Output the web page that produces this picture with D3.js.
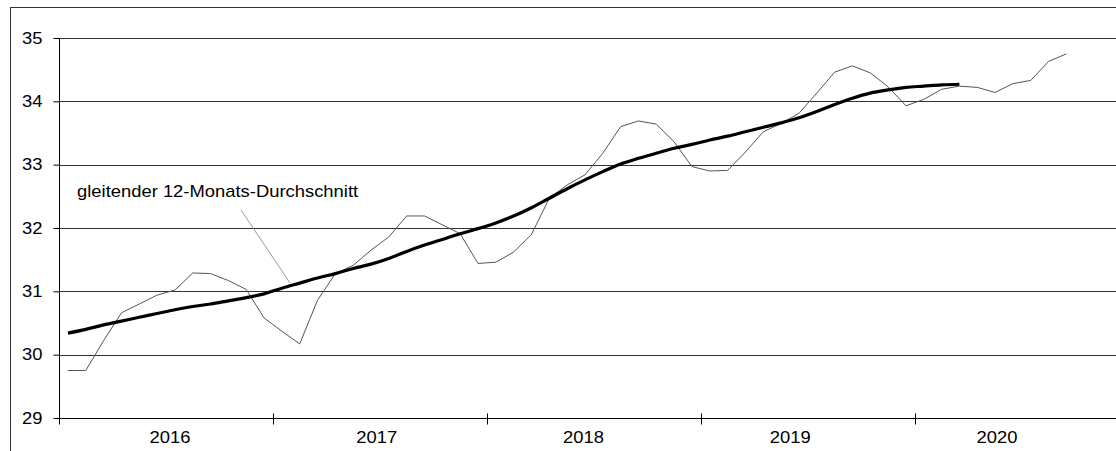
<!DOCTYPE html>
<html>
<head>
<meta charset="utf-8">
<script src="https://cdn.jsdelivr.net/npm/d3@7"></script>
<style>
  html, body { margin: 0; padding: 0; background: #fff; }
  svg { display: block; font-family: "Liberation Sans", Arial, sans-serif; }
</style>
</head>
<body>
<svg id="chart" width="1116" height="451"></svg>
<script>
// ---------- data ----------
const years = ["2016", "2017", "2018", "2019", "2020"];
const monthsPerYearOnAxis = 12;
const yTicks = [29, 30, 31, 32, 33, 34, 35];

// monthly values, Jan 2016 .. Sep 2020
const monthly = [
  29.75, 29.75, 30.22, 30.66, 30.80, 30.94, 31.02, 31.29, 31.28, 31.17, 31.03, 30.58,
  30.37, 30.17, 30.86, 31.28, 31.41, 31.65, 31.86, 32.19, 32.19, 32.05, 31.91, 31.44,
  31.46, 31.62, 31.90, 32.47, 32.68, 32.84, 33.18, 33.60, 33.69, 33.64, 33.36, 32.97,
  32.90, 32.91, 33.20, 33.52, 33.65, 33.81, 34.13, 34.46, 34.56, 34.45, 34.23, 33.93,
  34.03, 34.19, 34.24, 34.22, 34.14, 34.28, 34.33, 34.63, 34.75
];

// 12-month moving average, Jan 2016 .. Mar 2020
const movingAvg = [
  30.34, 30.40, 30.47, 30.53, 30.59, 30.65, 30.71, 30.76, 30.80, 30.85, 30.90, 30.96,
  31.05, 31.13, 31.21, 31.28, 31.36, 31.43, 31.52, 31.63, 31.73, 31.82, 31.91, 31.99,
  32.08, 32.19, 32.32, 32.47, 32.62, 32.76, 32.89, 33.01, 33.10, 33.18, 33.26, 33.32,
  33.39, 33.45, 33.52, 33.59, 33.66, 33.74, 33.84, 33.95, 34.05, 34.13, 34.18, 34.22,
  34.24, 34.26, 34.27
];

const labelText = "gleitender 12-Monats-Durchschnitt";

// ---------- layout ----------
const svg = d3.select("#chart");
const plotLeft = 59, plotTop = 38, plotBottom = 418;
const step = 17.83;
const totalMonths = years.length * monthsPerYearOnAxis;
const plotRight = plotLeft + totalMonths * step;
const HS = 1.15; // horizontal text stretch

const x = d3.scaleLinear().domain([0, totalMonths]).range([plotLeft, plotRight]);
const y = d3.scaleLinear().domain([29, 35]).range([plotBottom, plotTop]);
const yearX = d3.scalePoint().domain(years).range([170, 997]);

// outer border
svg.append("rect")
  .attr("x", 10.5).attr("y", 7.5)
  .attr("width", 1130).attr("height", 460)
  .attr("fill", "none").attr("stroke", "#333").attr("stroke-width", 1);

// gridlines
svg.append("g").selectAll("line")
  .data(yTicks.filter(d => d > 29))
  .join("line")
  .attr("x1", plotLeft).attr("x2", plotRight)
  .attr("y1", d => Math.round(y(d)) + 0.5).attr("y2", d => Math.round(y(d)) + 0.5)
  .attr("stroke", "#333").attr("stroke-width", 1);

// y axis
const yAxis = svg.append("g").attr("transform", `translate(${plotLeft + 0.5},0)`)
  .call(d3.axisLeft(y).tickValues(yTicks).tickSize(6).tickFormat(""));
yAxis.select(".domain").attr("stroke", "#000").attr("d", `M0,${y(35)}V${Math.round(y(29)) + 0.5}`);
yAxis.selectAll(".tick line").attr("stroke", "#000");

svg.append("g").selectAll("text")
  .data(yTicks)
  .join("text")
  .attr("transform", d => `translate(42.5,${y(d) + 5.6}) scale(${HS},1)`)
  .attr("text-anchor", "end")
  .attr("font-size", 16)
  .attr("fill", "#000")
  .text(d => d);

// x axis
const boundaries = d3.range(0, totalMonths, monthsPerYearOnAxis);
const xAxis = svg.append("g").attr("transform", `translate(0,${Math.round(y(29)) + 0.5})`);
xAxis.append("line")
  .attr("x1", plotLeft).attr("x2", plotRight)
  .attr("stroke", "#000");
xAxis.selectAll("line.tk")
  .data(boundaries)
  .join("line").attr("class", "tk")
  .attr("x1", d => Math.round(x(d)) + 0.5).attr("x2", d => Math.round(x(d)) + 0.5)
  .attr("y1", -5).attr("y2", 6)
  .attr("stroke", "#000");

svg.append("g").selectAll("text")
  .data(years)
  .join("text")
  .attr("transform", d => `translate(${yearX(d)},443) scale(${HS},1)`)
  .attr("text-anchor", "middle")
  .attr("font-size", 16)
  .attr("fill", "#000")
  .text(d => d);

// thin monthly line
const lineThin = d3.line()
  .x((d, i) => x(i + 0.5))
  .y(d => y(d));
svg.append("path")
  .datum(monthly)
  .attr("d", lineThin)
  .attr("fill", "none")
  .attr("stroke", "#555")
  .attr("stroke-width", 1);

// thick moving average
const lineThick = d3.line()
  .x((d, i) => x(i + 0.5))
  .y(d => y(d))
  .curve(d3.curveMonotoneX);
svg.append("path")
  .datum(movingAvg)
  .attr("d", lineThick)
  .attr("fill", "none")
  .attr("stroke", "#000")
  .attr("stroke-width", 3.2)
  .attr("stroke-linejoin", "round");

// label + leader line
svg.append("line")
  .attr("x1", 241).attr("y1", 210)
  .attr("x2", 290).attr("y2", 283)
  .attr("stroke", "#999").attr("stroke-width", 1);

svg.append("text")
  .attr("transform", `translate(77,197) scale(${HS},1)`)
  .attr("font-size", 16)
  .attr("fill", "#000")
  .text(labelText);
</script>
</body>
</html>
